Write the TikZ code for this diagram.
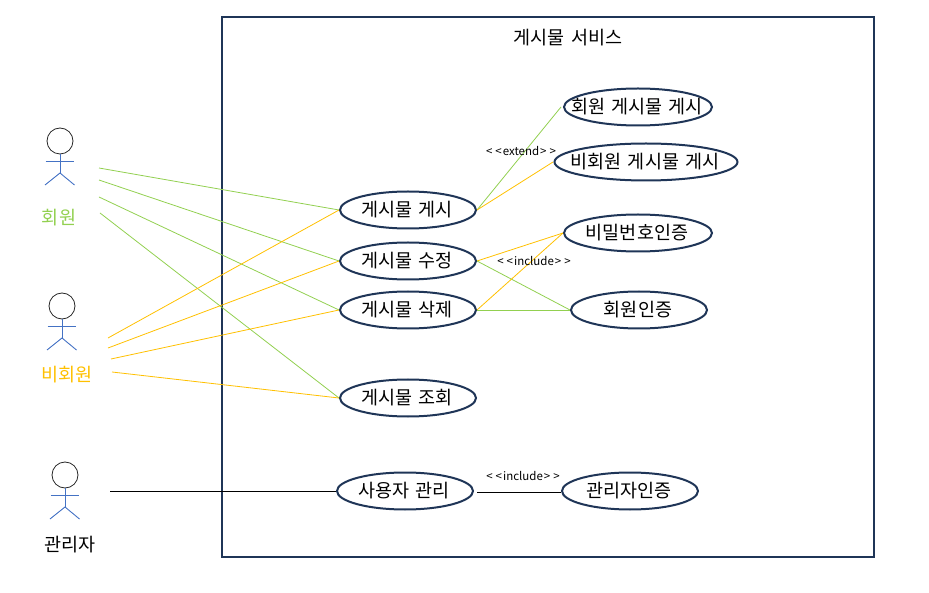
\documentclass[tikz,border=0pt]{standalone}
\usepackage{fontspec}
\setmainfont[WordSpace=1.5]{Noto Sans CJK KR}
\usetikzlibrary{shapes.geometric}
\definecolor{navy}{HTML}{1F3557}
\definecolor{memgreen}{HTML}{92D050}
\definecolor{guestorange}{HTML}{FFC000}
\definecolor{bodyblue}{HTML}{4472C4}
\newcommand{\guillabel}[1]{{<}\kern3pt{<}\kern1pt#1\kern1pt{>}\kern3pt{>}}
\newcommand{\uclabel}[1]{\raisebox{-6.5pt}[0pt][0pt]{\makebox[0pt]{#1\kern2pt}}}

\begin{document}
\begin{tikzpicture}
[x=1pt,y=-1pt,%
  usecase/.style={shape=ellipse,draw=navy,line width=2pt,inner sep=0pt,minimum height=37pt,font=\fontsize{18.5}{20}\selectfont},%
  actorname/.style={font=\fontsize{18.5}{20}\selectfont},%
  stereo/.style={font=\fontsize{11.5}{13}\selectfont},%
  memberline/.style={draw=memgreen,line width=0.8pt},%
  guestline/.style={draw=guestorange,line width=0.8pt},%
  adminline/.style={draw=black,line width=0.8pt}]
\useasboundingbox (0,0) rectangle (929,593);
\draw[navy,line width=2pt] (222,17) rectangle (874,557);
\node[actorname] (title) at (568,38) {게시물 서비스};
% actors
\foreach \name/\hx/\hy in {member/60/141,guest/62/306,admin/65/475} {
  \node[shape=circle,draw=black!85,line width=0.8pt,minimum size=26pt,inner sep=0pt] (\name head) at (\hx,\hy) {};
  \coordinate (\name hip) at (\hx,\hy+32);
  \draw[bodyblue,line width=0.9pt] (\name head.south) -- (\name hip);
  \draw[bodyblue,line width=0.9pt] (\hx-14.5,\hy+20) -- (\hx+13.5,\hy+20);
  \draw[bodyblue,line width=0.9pt] (\hx-15,\hy+44) -- (\name hip) -- (\hx+14.5,\hy+44);
}
\node[actorname,text=memgreen] (member) at (59,218) {회원};
\node[actorname,text=guestorange] (guest) at (67,375) {비회원};
\node[actorname] (admin) at (70,545) {관리자};
% use cases
\node[usecase,minimum width=136pt] (post) at (408,210) {\uclabel{게시물 게시}};
\node[usecase,minimum width=136pt] (edit) at (408,261) {\uclabel{게시물 수정}};
\node[usecase,minimum width=136pt] (del) at (408,310) {\uclabel{게시물 삭제}};
\node[usecase,minimum width=136pt] (view) at (408,398) {\uclabel{게시물 조회}};
\node[usecase,minimum width=136pt] (user) at (405,491) {\uclabel{사용자 관리}};
\node[usecase,minimum width=148pt] (mempost) at (638,107) {\uclabel{회원 게시물 게시}};
\node[usecase,minimum width=183pt] (guestpost) at (646,162) {\uclabel{비회원 게시물 게시}};
\node[usecase,minimum width=148pt] (pwauth) at (638,233) {\uclabel{비밀번호인증}};
\node[usecase,minimum width=136pt] (memauth) at (639,310) {\uclabel{회원인증}};
\node[usecase,minimum width=136pt] (adminauth) at (630,491) {\uclabel{관리자인증}};
% free ends
\coordinate (m1) at (99,168);
\coordinate (m2) at (99,180);
\coordinate (m3) at (99,197);
\coordinate (m4) at (100,213);
\coordinate (g1) at (108,338);
\coordinate (g2) at (108,348);
\coordinate (g3) at (111,359);
\coordinate (g4) at (112,372);
\coordinate (a1) at (110,491);
\coordinate (mp) at (561,107);
\coordinate (gp) at (553,162);
\coordinate (ue) at (477,492);
\coordinate (ae) at (561,492);
% connectors
\draw[memberline] (m1) -- (post.west);
\draw[memberline] (m2) -- (edit.west);
\draw[memberline] (m3) -- (del.west);
\draw[memberline] (m4) -- (view.west);
\draw[guestline] (g1) -- (post.west);
\draw[guestline] (g2) -- (edit.west);
\draw[guestline] (g3) -- (del.west);
\draw[guestline] (g4) -- (view.west);
\draw[adminline] (a1) -- (user.west);
\draw[memberline] (post.east) -- (mp);
\draw[guestline] (post.east) -- (gp);
\draw[guestline] (edit.east) -- (pwauth.west);
\draw[memberline] (edit.east) -- (memauth.west);
\draw[guestline] (del.east) -- (pwauth.west);
\draw[memberline] (del.east) -- (memauth.west);
\draw[adminline] (ue) -- (ae);
\node[stereo] (extend) at (521,151) {\guillabel{extend}};
\node[stereo] (include) at (534,261) {\guillabel{include}};
\node[stereo] (incadmin) at (523,476) {\guillabel{include}};
\end{tikzpicture}
\end{document}
